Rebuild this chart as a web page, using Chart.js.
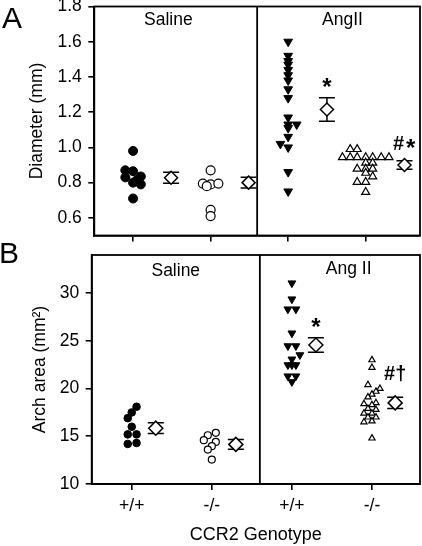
<!DOCTYPE html>
<html>
<head>
<meta charset="utf-8">
<script src="https://cdn.jsdelivr.net/npm/chart.js@4"></script>
<style>
body{margin:0;background:#fff;}
#wrap{position:relative;width:422px;height:546px;font-family:"Liberation Sans",Arial,sans-serif;}
canvas{position:absolute;left:0;}
.letter{position:absolute;font-size:30px;line-height:30px;color:#000;}
</style>
</head>
<body>
<div id="wrap">
<canvas id="chartA" width="422" height="250" style="top:0"></canvas>
<canvas id="chartB" width="422" height="296" style="top:250px"></canvas>
<div class="letter" style="left:2px;top:3px">A</div>
<div class="letter" style="left:-1px;top:238px">B</div>
</div>
<script>
// categories (x positions 1..4)
var xTicks = [1, 2, 3, 4];
var xTickLabels = ['+/+', '-/-', '+/+', '-/-'];

// ---- panel A : diameter (mm) ----
var yTicksA = [0.6, 0.8, 1.0, 1.2, 1.4, 1.6, 1.8];
var salWtA   = [0.98, 0.87, 0.865, 0.835, 0.83, 0.815, 0.80, 0.79, 0.71];
var salWtAj  = [0, -0.1, 0, 0.1, -0.1, 0.05, 0, 0.1, 0];
var salKoA   = [0.87, 0.795, 0.79, 0.795, 0.78, 0.645, 0.61];
var salKoAj  = [0, -0.1, 0, 0.1, -0.05, 0, 0];
var angWtA   = [1.60, 1.52, 1.49, 1.47, 1.44, 1.41, 1.38, 1.33, 1.28, 1.17, 1.13, 1.13, 1.11, 1.06, 1.02, 1.00, 0.86, 0.75];
var angWtAj  = [0, 0, 0, 0, 0, 0, 0, 0, 0, 0, 0, 0.11, 0, 0, -0.1, 0, 0, 0];
var angKoA   = [0.99, 0.99, 0.944, 0.944, 0.944, 0.944, 0.944, 0.944, 0.944, 0.912, 0.912, 0.878, 0.878, 0.878, 0.855, 0.835, 0.803, 0.803, 0.746];
var angKoAj  = [-0.2, -0.11, -0.3, -0.2, -0.11, 0, 0.09, 0.2, 0.3, 0, 0.09, -0.11, 0, 0.09, 0, 0.09, -0.11, 0, 0];
var meanXA   = [1.49, 2.49, 3.5, 4.5];
var meanA    = [0.828, 0.80, 1.215, 0.90];
var semA     = [0.031, 0.031, 0.067, 0.024];
var sigTextA = ['*', '#', '*'];
var sigXA    = [3.5, 4.425, 4.58];
var sigYA    = [1.30, 0.986, 0.949];
var groupTextA = ['Saline', 'AngII'];
var groupXA    = [1.455, 3.70];
var groupYA    = [1.72, 1.72];

// ---- panel B : arch area (mm2) ----
var yTicksB = [10, 15, 20, 25, 30];
var salWtB   = [18.1, 17.5, 16.9, 16.0, 15.2, 15.2, 14.2, 14.3];
var salWtBj  = [0.06, 0, -0.05, 0, -0.05, 0.06, -0.05, 0.06];
var salKoB   = [15.36, 15.11, 14.59, 14.41, 13.96, 13.61, 12.56];
var salKoBj  = [0.05, -0.05, -0.1, 0.05, 0, -0.05, 0];
var angWtB   = [31.05, 29.37, 28.32, 28.32, 25.8, 24.46, 24.46, 23.52, 23.07, 22.47, 22.47, 22.47, 21.3, 21.3, 20.7];
var angWtBj  = [0, 0, -0.05, 0.05, 0, -0.05, 0.05, 0.1, 0, -0.05, 0, 0.05, -0.05, 0.05, 0];
var angKoB   = [23.0, 22.2, 20.4, 20.0, 19.7, 19.4, 19.1, 18.5, 18.4, 18.3, 17.9, 17.8, 17.4, 17.4, 17.0, 17.0, 16.6, 16.5, 14.8];
var angKoBj  = [0, 0, -0.05, 0.1, 0.05, 0, -0.05, 0.05, -0.1, 0, -0.05, 0.05, -0.1, 0, -0.05, 0.05, 0, -0.1, 0];
var meanXB   = [1.3, 2.3, 3.3, 4.29];
var meanB    = [15.85, 14.15, 24.57, 18.5];
var semB     = [0.56, 0.52, 0.77, 0.58];
var sigTextB = ['*', '#\u2020'];
var sigXB    = [3.3, 4.29];
var sigYB    = [25.61, 20.89];
var groupTextB = ['Saline', 'Ang II'];
var groupXB    = [1.55, 3.71];
var groupYB    = [32.35, 32.5];

var fam = '"Liberation Sans", Arial, sans-serif';
Chart.defaults.font.family = fam;
Chart.defaults.font.size = 17.5;
Chart.defaults.color = '#000';

function pts(center, vals, jit){
    return vals.map(function(v, i){ return {x: center + jit[i], y: v}; });
}

function markers(data, shape, fill, r, rot, bw){
    return {
        data: data, showLine: false,
        pointStyle: shape, pointRadius: r, pointRotation: rot || 0,
        pointBackgroundColor: fill, pointBorderColor: '#000', pointBorderWidth: bw || 1
    };
}

// box, divider, error bars and text
var decor = {
    id: 'decor',
    beforeDatasetsDraw: function(chart, args, o){
        var ctx = chart.ctx, xs = chart.scales.x, ys = chart.scales.y;
        ctx.save();
        ctx.strokeStyle = '#000';
        ctx.lineWidth = 1.5;
        o.meanX.forEach(function(x, i){
            var px = xs.getPixelForValue(x);
            var t = ys.getPixelForValue(o.means[i] + o.sems[i]);
            var b = ys.getPixelForValue(o.means[i] - o.sems[i]);
            ctx.beginPath();
            ctx.moveTo(px, t); ctx.lineTo(px, b);
            ctx.moveTo(px - 8, t); ctx.lineTo(px + 8, t);
            ctx.moveTo(px - 8, b); ctx.lineTo(px + 8, b);
            ctx.stroke();
        });
        ctx.restore();
    },
    afterDraw: function(chart, args, o){
        var ctx = chart.ctx, xs = chart.scales.x, ys = chart.scales.y, a = chart.chartArea;
        ctx.save();
        ctx.strokeStyle = '#000';
        ctx.lineWidth = 1.8;
        ctx.strokeRect(a.left, a.top, a.right - a.left, a.bottom - a.top);
        var dx = xs.getPixelForValue(o.divider);
        ctx.beginPath();
        ctx.moveTo(dx, a.top); ctx.lineTo(dx, a.bottom);
        ctx.stroke();
        ctx.fillStyle = '#000';
        ctx.textAlign = 'center';
        ctx.font = '17.5px ' + fam;
        ctx.textBaseline = 'middle';
        o.groupText.forEach(function(s, i){
            ctx.fillText(s, xs.getPixelForValue(o.groupX[i]), ys.getPixelForValue(o.groupY[i]));
        });
        ctx.textBaseline = 'alphabetic';
        o.sigText.forEach(function(s, i){
            // asterisks are drawn bigger than the other marks
            ctx.font = (s === '*' ? 'bold 24px ' : 'bold 20px ') + fam;
            ctx.fillText(s, xs.getPixelForValue(o.sigX[i]), ys.getPixelForValue(o.sigY[i]));
        });
        ctx.restore();
    }
};

function makeChart(id, c){
    return new Chart(document.getElementById(id), {
        type: 'scatter',
        data: {datasets: c.sets},
        options: {
            responsive: false, animation: false, events: [],
            layout: {autoPadding: false, padding: {top: c.padTop, right: 2, left: 0, bottom: 0}},
            plugins: {
                legend: {display: false}, tooltip: {enabled: false},
                decor: c.decor
            },
            scales: {
                x: {
                    type: 'linear', min: c.xMin, max: c.xMax,
                    afterBuildTicks: function(s){ s.ticks = xTicks.map(function(v){ return {value: v}; }); },
                    afterFit: function(s){ s.height = c.xHeight; s.paddingLeft = 0; s.paddingRight = 0; },
                    grid: {drawOnChartArea: false, drawTicks: true, tickLength: 6, color: '#000', lineWidth: 1.6},
                    border: {display: true, color: '#000', width: 1.8},
                    ticks: {autoSkip: false, maxRotation: 0, padding: 6,
                        callback: function(v, i){ return c.xLabels ? c.xLabels[i] : ''; }},
                    title: c.xTitle ? {display: true, text: c.xTitle, font: {size: 18}, padding: {top: 0, bottom: 0}} : {display: false}
                },
                y: {
                    type: 'linear', min: c.yMin, max: c.yMax,
                    afterBuildTicks: function(s){ s.ticks = c.yTicks.map(function(v){ return {value: v}; }); },
                    afterFit: function(s){ s.width = c.yWidth; s.paddingTop = 0; s.paddingBottom = 0; },
                    grid: {drawOnChartArea: false, drawTicks: true, tickLength: 6, color: '#000', lineWidth: 1.6},
                    border: {display: true, color: '#000', width: 1.8},
                    ticks: {padding: 6.5, callback: function(v){ return v.toFixed(c.yDec); }},
                    title: {display: true, text: c.yTitle, padding: {top: c.yTitlePad, bottom: 0}}
                }
            }
        },
        plugins: [decor]
    });
}

var meanPtsA = meanXA.map(function(x, i){ return {x: x, y: meanA[i]}; });
var meanPtsB = meanXB.map(function(x, i){ return {x: x, y: meanB[i]}; });

makeChart('chartA', {
    padTop: 6.5, xMin: 0.5, xMax: 4.7, yMin: 0.5, yMax: 1.8, yTicks: yTicksA, yDec: 1,
    xHeight: 14.5, yWidth: 94.3, yTitle: 'Diameter (mm)', yTitlePad: 27,
    sets: [
        markers(pts(1, salWtA, salWtAj), 'circle', '#000', 4.5),
        markers(pts(2, salKoA, salKoAj), 'circle', '#fff', 4.5, 0, 1.2),
        markers(pts(3, angWtA, angWtAj), 'triangle', '#000', 5, 180),
        markers(pts(4, angKoA, angKoAj), 'triangle', '#fff', 4.6, 0, 1.2),
        markers(meanPtsA, 'rectRot', '#fff', 6.5, 0, 1.5)
    ],
    decor: {meanX: meanXA, means: meanA, sems: semA, divider: 2.6,
        groupText: groupTextA, groupX: groupXA, groupY: groupYA,
        sigText: sigTextA, sigX: sigXA, sigY: sigYA}
});

makeChart('chartB', {
    padTop: 5, xMin: 0.5, xMax: 4.6, yMin: 10, yMax: 34, yTicks: yTicksB, yDec: 0,
    xHeight: 62, yWidth: 91.7, yTitle: 'Arch area (mm\u00b2)', yTitlePad: 30,
    xLabels: xTickLabels, xTitle: 'CCR2 Genotype',
    sets: [
        markers(pts(1, salWtB, salWtBj), 'circle', '#000', 3.8),
        markers(pts(2, salKoB, salKoBj), 'circle', '#fff', 3.5, 0, 1.2),
        markers(pts(3, angWtB, angWtBj), 'triangle', '#000', 4.5, 180),
        markers(pts(4, angKoB, angKoBj), 'triangle', '#fff', 3.6, 0, 1.2),
        markers(meanPtsB, 'rectRot', '#fff', 7, 0, 1.5)
    ],
    decor: {meanX: meanXB, means: meanB, sems: semB, divider: 2.6,
        groupText: groupTextB, groupX: groupXB, groupY: groupYB,
        sigText: sigTextB, sigX: sigXB, sigY: sigYB}
});
</script>
</body>
</html>
